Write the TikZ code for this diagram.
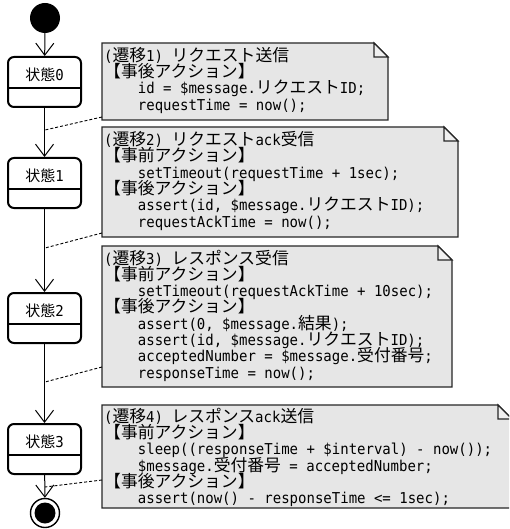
\documentclass[tikz,border=0pt]{standalone}
\usepackage{fontspec}
\setmainfont{DejaVu Sans Mono}
\newfontfamily\cjkfont{Noto Sans CJK JP}
\newfontfamily\monofont[FakeStretch=0.934]{DejaVu Sans Mono}
\usetikzlibrary{arrows.meta}
\definecolor{notegray}{RGB}{230,230,230}
\definecolor{foldgray}{RGB}{240,240,240}
\newcommand\jp[1]{{\cjkfont\fontsize{16.8}{16.4}\selectfont #1}}
\newcommand\jps[1]{{\cjkfont\fontsize{15}{16}\selectfont #1}}
\newcommand\ind{\hspace*{33.7pt}}
\newcommand\drawnote[1]{%
  \draw[noteline] (#1.north west) -- ([xshift=-14pt]#1.north east) -- ([yshift=-14pt]#1.north east) -- (#1.south east) -- (#1.south west) -- cycle;
  \draw[foldline] ([xshift=-14pt]#1.north east) -- ([xshift=-14pt,yshift=-14pt]#1.north east) -- ([yshift=-14pt]#1.north east) -- cycle;}
\newcommand\divider[1]{%
  \draw[divline] ([yshift=-32pt]#1.north west) -- ([yshift=-32pt]#1.north east);}
\begin{document}
\begin{tikzpicture}[x=1pt,y=-1pt,
  initstate/.style={circle, fill=black, minimum size=30pt, inner sep=0pt},
  finalstate/.style={circle, draw=black, line width=1.4pt, minimum size=29pt, inner sep=0pt,
    path picture={\fill[black] (path picture bounding box.center) circle (10.5pt);}},
  statebox/.style={draw=black, line width=2pt, rounded corners=6pt, fill=white,
    minimum width=73pt, minimum height=50pt, inner sep=0pt, anchor=north},
  divline/.style={line width=1.2pt},
  statelabel/.style={anchor=base, inner sep=0pt, font=\monofont\fontsize{15}{16}\selectfont},
  trans/.style={line width=1pt, -{Straight Barb[length=12pt,width=18pt,line width=1pt]}},
  noteframe/.style={anchor=north west, inner sep=0pt, outer sep=0pt},
  noteline/.style={draw=black!85, line width=1.3pt, fill=notegray, line join=miter},
  foldline/.style={draw=black!85, line width=1.1pt, fill=foldgray},
  ln/.style={anchor=base west, inner sep=0pt, font=\monofont\fontsize{15}{16.4}\selectfont},
  anchorline/.style={line width=0.9pt, dash pattern=on 3pt off 2pt}]
\useasboundingbox (0,0) rectangle (509,529);
\clip (0,0) rectangle (509,529);

% states
\node[initstate] (init) at (45,18) {};
\node[statebox] (s0) at (44.5,56) {};
\node[statebox] (s1) at (44.5,157) {};
\node[statebox] (s2) at (44.5,292) {};
\node[statebox] (s3) at (44.5,423) {};
\node[finalstate] (fin) at (45,513) {};
\divider{s0}\divider{s1}\divider{s2}\divider{s3}
\node[statelabel] (l0) at (44.5,80.5) {\jps{状態}0};
\node[statelabel] (l1) at (44.5,181.5) {\jps{状態}1};
\node[statelabel] (l2) at (44.5,316.5) {\jps{状態}2};
\node[statelabel] (l3) at (44.5,447.5) {\jps{状態}3};

% transitions
\draw[trans] (init) -- (s0);
\draw[trans] (s0) -- (s1);
\draw[trans] (s1) -- (s2);
\draw[trans] (s2) -- (s3);
\draw[trans] (s3) -- (fin);
\coordinate (c1) at (45,130);
\coordinate (c2) at (45,248);
\coordinate (c3) at (45,382);
\coordinate (c4) at (45,487);

% notes
\node[noteframe, minimum width=286pt, minimum height=77pt] (n1) at (102,43) {};
\node[noteframe, minimum width=356pt, minimum height=110pt] (n2) at (102,127) {};
\node[noteframe, minimum width=350pt, minimum height=141pt] (n3) at (102,246) {};
\node[noteframe, minimum width=410pt, minimum height=103pt] (n4) at (102,405) {};
\drawnote{n1}\drawnote{n2}\drawnote{n3}\drawnote{n4}

\draw[anchorline] ([yshift=3pt]n1.south west) -- (c1);
\draw[anchorline] ([yshift=4pt]n2.south west) -- (c2);
\draw[anchorline] ([yshift=20pt]n3.south west) -- (c3);
\draw[anchorline] ([yshift=28pt]n4.south west) -- (c4);

% note 1
\node[ln] (t1a) at (104,61.5)  {(\jp{遷移}1) \jp{リクエスト送信}};
\node[ln] (t1b) at (104,77.7)  {\jp{【事後アクション】}};
\node[ln] (t1c) at (104,93.9)  {\ind id = \$message.\jp{リクエスト}ID;};
\node[ln] (t1d) at (104,110.1) {\ind requestTime = now();};
% note 2
\node[ln] (t2a) at (104,145.5) {(\jp{遷移}2) \jp{リクエスト}ack\jp{受信}};
\node[ln] (t2b) at (104,161.8) {\jp{【事前アクション】}};
\node[ln] (t2c) at (104,178.1) {\ind setTimeout(requestTime + 1sec);};
\node[ln] (t2d) at (104,194.4) {\jp{【事後アクション】}};
\node[ln] (t2e) at (104,210.7) {\ind assert(id, \$message.\jp{リクエスト}ID);};
\node[ln] (t2f) at (104,227)   {\ind requestAckTime = now();};
% note 3
\node[ln] (t3a) at (104,264)   {(\jp{遷移}3) \jp{レスポンス受信}};
\node[ln] (t3b) at (104,280.3) {\jp{【事前アクション】}};
\node[ln] (t3c) at (104,296.6) {\ind setTimeout(requestAckTime + 10sec);};
\node[ln] (t3d) at (104,312.9) {\jp{【事後アクション】}};
\node[ln] (t3e) at (104,329.2) {\ind assert(0, \$message.\jp{結果});};
\node[ln] (t3f) at (104,345.5) {\ind assert(id, \$message.\jp{リクエスト}ID);};
\node[ln] (t3g) at (104,361.8) {\ind acceptedNumber = \$message.\jp{受付番号};};
\node[ln] (t3h) at (104,378.1) {\ind responseTime = now();};
% note 4
\node[ln] (t4a) at (104,422.5) {(\jp{遷移}4) \jp{レスポンス}ack\jp{送信}};
\node[ln] (t4b) at (104,438.7) {\jp{【事前アクション】}};
\node[ln] (t4c) at (104,454.9) {\ind sleep((responseTime + \$interval) - now());};
\node[ln] (t4d) at (104,471.1) {\ind \$message.\jp{受付番号} = acceptedNumber;};
\node[ln] (t4e) at (104,487.3) {\jp{【事後アクション】}};
\node[ln] (t4f) at (104,503.5) {\ind assert(now() - responseTime <= 1sec);};
\end{tikzpicture}
\end{document}
